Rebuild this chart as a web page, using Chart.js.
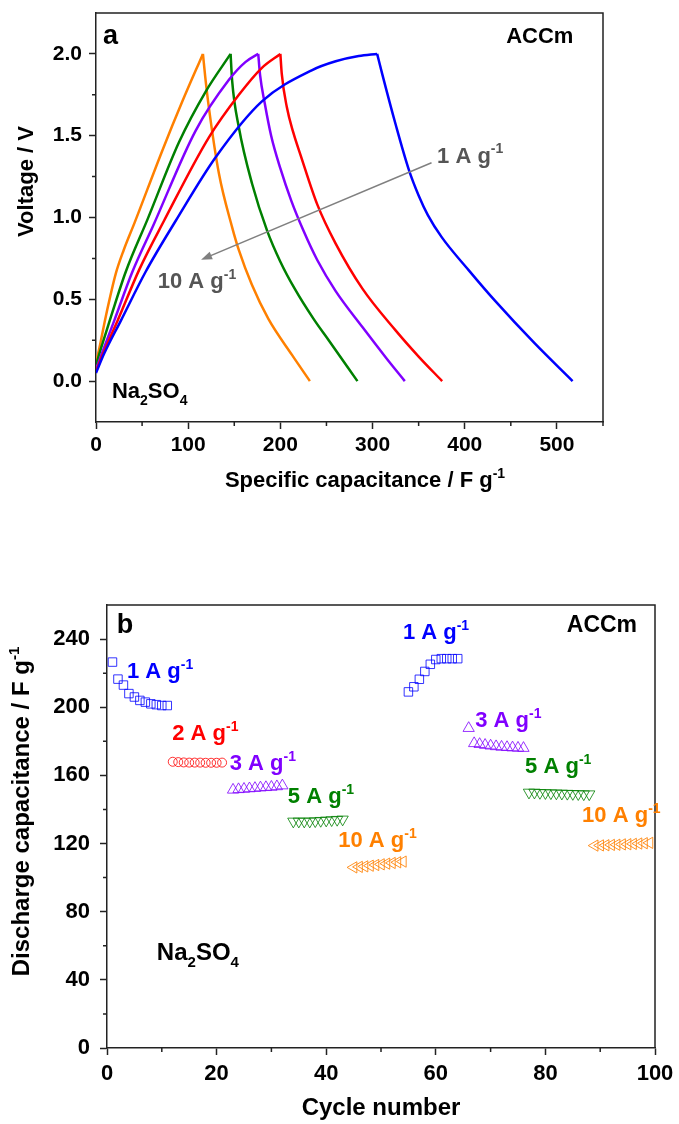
<!DOCTYPE html>
<html>
<head>
<meta charset="utf-8">
<script src="https://cdn.jsdelivr.net/npm/chart.js@4.4.1/dist/chart.umd.min.js"></script>
<style>
  body { margin: 0; background: #fff; }
  .panel { position: absolute; left: 0; }
</style>
</head>
<body>
<div class="panel" style="top:0"><canvas id="chartA" width="679" height="500"></canvas></div>
<div class="panel" style="top:500px"><canvas id="chartB" width="679" height="624"></canvas></div>
<script>
// ---- (a) charge / discharge curves: [specific capacitance F/g, voltage V]
const charge1A = [[0,0.05],[9,0.17],[27,0.37],[54,0.67],[86.5,0.98],[130,1.37],[180,1.71],[234,1.90],[260,1.955],[285,1.987],[305,2.0]];
const discharge1A = [[305,2.0],[310.6,1.875],[325,1.57],[339.5,1.29],[350,1.135],[360,1.015],[375,0.88],[404,0.68],[433,0.49],[476,0.23],[517,0.0]];
const charge2A = [[0,0.06],[7.9,0.17],[23.5,0.37],[46.8,0.68],[73.8,0.98],[122.5,1.49],[155,1.75],[180,1.915],[200,2.0]];
const discharge2A = [[200,2.0],[201.5,1.88],[207,1.675],[214,1.52],[222,1.38],[240,1.08],[260,0.84],[289,0.565],[325,0.31],[350,0.15],[375.5,0.0]];
const charge3A = [[0,0.07],[6.5,0.17],[19.8,0.37],[39.6,0.67],[62,0.95],[108,1.53],[144,1.84],[162,1.95],[176,2.0]];
const discharge3A = [[176,2.0],[178,1.87],[183,1.70],[190,1.50],[200,1.30],[212,1.10],[225,0.92],[240,0.74],[260,0.55],[289,0.33],[315,0.14],[335,0.0]];
const charge5A = [[0,0.1],[5.4,0.2],[16,0.39],[32.4,0.67],[56,0.99],[90,1.46],[119,1.77],[146,2.0]];
const discharge5A = [[146,2.0],[147.7,1.835],[155,1.55],[169.4,1.205],[185.6,0.92],[200,0.73],[216,0.56],[236,0.38],[253,0.245],[283.6,0.0]];
const charge10A = [[0,0.11],[3.6,0.20],[10.8,0.40],[21.6,0.66],[30,0.80],[42,0.97],[72,1.41],[93.7,1.71],[116,2.0]];
const discharge10A = [[116,2.0],[118.5,1.86],[122.5,1.67],[133.3,1.27],[147.7,0.94],[155,0.80],[169,0.59],[187,0.38],[212.6,0.16],[232,0.0]];

const xTicksA = [0, 100, 200, 300, 400, 500];
const xMinorA = [50, 150, 250, 350, 450, 550];
const yTicksA = [0, 0.5, 1.0, 1.5, 2.0];
const yMinorA = [0.25, 0.75, 1.25, 1.75];

// ---- (b) rate capability: cycle number vs discharge capacitance (F/g)
const cyc1A_1 = [1,2,3,4,5,6,7,8,9,10,11];
const val1A_1 = [226.5,216.5,213,208,206,204,203,202,201.5,201,201];
const cyc2A = [12,13,14,15,16,17,18,19,20,21];
const val2A = [168,167.8,167.6,167.5,167.5,167.5,167.4,167.4,167.4,167.5];
const cyc3A_1 = [23,24,25,26,27,28,29,30,31,32];
const val3A_1 = [151.5,151.8,152,152.3,152.5,152.8,153,153.2,153.5,154];
const cyc5A_1 = [34,35,36,37,38,39,40,41,42,43];
const val5A_1 = [133,133,133,133,133.2,133.4,133.6,133.8,134,134.2];
const cyc10A_1 = [45,46,47,48,49,50,51,52,53,54];
const val10A_1 = [106,106.3,106.6,107,107.4,107.8,108.2,108.6,109,109.4];
const cyc1A_2 = [55,56,57,58,59,60,61,62,63,64];
const val1A_2 = [209,212,216.4,221,225.2,228,228.5,228.5,228.5,228.5];
const cyc3A_2 = [66,67,68,69,70,71,72,73,74,75,76];
const val3A_2 = [187.7,178.8,178.3,177.8,177.4,177,176.7,176.5,176.3,176.1,176];
const cyc5A_2 = [77,78,79,80,81,82,83,84,85,86,87,88];
const val5A_2 = [150,150,149.8,149.7,149.6,149.5,149.4,149.3,149.2,149.1,149,149];
const cyc10A_2 = [89,90,91,92,93,94,95,96,97,98,99];
const val10A_2 = [118.8,118.9,119,119.2,119.3,119.5,119.6,119.8,120,120.2,120.4];

const xTicksB = [0, 20, 40, 60, 80, 100];
const xMinorB = [10, 30, 50, 70, 90];
const yTicksB = [0, 40, 80, 120, 160, 200, 240];
const yMinorB = [20, 60, 100, 140, 180, 220];

const FONT = '"Liberation Sans", Arial, Helvetica, sans-serif';
const AXIS = '#222';
const BLUE = '#0000ff', RED = '#ff0000', PURPLE = '#8000ff', GREEN = '#008000', ORANGE = '#ff8000', GREY = '#555555';

function richWidth(ctx, parts, size) {
  let w = 0;
  parts.forEach(([t, s]) => {
    ctx.font = 'bold ' + (s ? Math.round(size * 0.62) : size) + 'px ' + FONT;
    w += ctx.measureText(t).width;
  });
  return w;
}
function drawRich(ctx, x, y, parts, size, color, center) {
  if (center) x -= richWidth(ctx, parts, size) / 2;
  ctx.fillStyle = color;
  ctx.textAlign = 'left';
  ctx.textBaseline = 'alphabetic';
  parts.forEach(([t, s]) => {
    ctx.font = 'bold ' + (s ? Math.round(size * 0.62) : size) + 'px ' + FONT;
    const dy = s > 0 ? -size * 0.42 : s < 0 ? size * 0.3 : 0;
    ctx.fillText(t, x, y + dy);
    x += ctx.measureText(t).width;
  });
}
const perG = (t) => [[t + ' A g', 0], ['-1', 1]];
const NA2SO4 = [['Na', 0], ['2', -1], ['SO', 0], ['4', -1]];

// box around plot area + short minor ticks
function framePlugin(minorX, minorY) {
  return {
    id: 'frame',
    afterDraw(chart) {
      const { ctx, chartArea: a, scales: { x, y } } = chart;
      ctx.save();
      ctx.strokeStyle = AXIS;
      ctx.lineWidth = 1.5;
      ctx.beginPath();
      ctx.moveTo(a.left, a.top);
      ctx.lineTo(a.right, a.top);
      ctx.lineTo(a.right, a.bottom);
      minorX.forEach(v => {
        const px = x.getPixelForValue(v);
        ctx.moveTo(px, a.bottom);
        ctx.lineTo(px, a.bottom + 4);
      });
      minorY.forEach(v => {
        const py = y.getPixelForValue(v);
        ctx.moveTo(a.left - 4, py);
        ctx.lineTo(a.left, py);
      });
      ctx.stroke();
      ctx.restore();
    }
  };
}

function axisX(min, max, ticks, size, pad, height) {
  return {
    type: 'linear', min, max,
    afterBuildTicks: s => { s.ticks = ticks.map(v => ({ value: v })); },
    afterFit: s => { s.height = height; s.paddingLeft = 0; s.paddingRight = 0; },
    ticks: { color: '#000', padding: pad, font: { family: FONT, size, weight: 'bold' }, callback: v => String(v) },
    grid: { drawOnChartArea: false, tickLength: 7, tickWidth: 1.5, tickColor: AXIS },
    border: { color: AXIS, width: 1.5 }
  };
}
function axisY(min, max, ticks, size, pad, width, fmt) {
  return {
    type: 'linear', min, max,
    afterBuildTicks: s => { s.ticks = ticks.map(v => ({ value: v })); },
    afterFit: s => { s.width = width; s.paddingTop = 0; s.paddingBottom = 0; },
    ticks: { color: '#000', padding: pad, font: { family: FONT, size, weight: 'bold' }, callback: fmt },
    grid: { drawOnChartArea: false, tickLength: 7, tickWidth: 1.5, tickColor: AXIS },
    border: { color: AXIS, width: 1.5 }
  };
}

// ---------------- chart (a)
const curve = (data, color) => ({
  data: data.map(([x, y]) => ({ x, y })),
  showLine: true, borderColor: color, borderWidth: 2.5, pointRadius: 0,
  cubicInterpolationMode: 'monotone', fill: false
});

const decorA = {
  id: 'decorA',
  afterDraw(chart) {
    const { ctx, scales: { x, y } } = chart;
    ctx.save();
    drawRich(ctx, x.getPixelForValue(7.6), y.getPixelForValue(2.06), [['a', 0]], 27, '#000');
    drawRich(ctx, x.getPixelForValue(445), y.getPixelForValue(2.067), [['ACCm', 0]], 22, '#000');
    drawRich(ctx, x.getPixelForValue(370), y.getPixelForValue(1.335), perG('1'), 22, GREY);
    drawRich(ctx, x.getPixelForValue(67), y.getPixelForValue(0.567), perG('10'), 22, GREY);
    drawRich(ctx, x.getPixelForValue(17.3), y.getPixelForValue(-0.104), NA2SO4, 22, '#000');
    // arrow from 1 A/g towards 10 A/g
    const x0 = x.getPixelForValue(364), y0 = y.getPixelForValue(1.335);
    const x1 = x.getPixelForValue(114), y1 = y.getPixelForValue(0.742);
    const ang = Math.atan2(y1 - y0, x1 - x0);
    ctx.strokeStyle = '#808080'; ctx.fillStyle = '#808080'; ctx.lineWidth = 1.5;
    ctx.beginPath(); ctx.moveTo(x0, y0);
    ctx.lineTo(x1 - 6 * Math.cos(ang), y1 - 6 * Math.sin(ang)); ctx.stroke();
    ctx.beginPath(); ctx.moveTo(x1, y1);
    ctx.lineTo(x1 - 11 * Math.cos(ang) + 4 * Math.sin(ang), y1 - 11 * Math.sin(ang) - 4 * Math.cos(ang));
    ctx.lineTo(x1 - 11 * Math.cos(ang) - 4 * Math.sin(ang), y1 - 11 * Math.sin(ang) + 4 * Math.cos(ang));
    ctx.closePath(); ctx.fill();
    // axis titles
    drawRich(ctx, 365, 487, [['Specific capacitance / F g', 0], ['-1', 1]], 22, '#000', true);
    ctx.translate(33, 181.5); ctx.rotate(-Math.PI / 2);
    drawRich(ctx, 0, 0, [['Voltage / V', 0]], 22, '#000', true);
    ctx.restore();
  }
};

new Chart(document.getElementById('chartA'), {
  type: 'scatter',
  data: {
    datasets: [
      curve(charge1A, BLUE), curve(discharge1A, BLUE),
      curve(charge2A, RED), curve(discharge2A, RED),
      curve(charge3A, PURPLE), curve(discharge3A, PURPLE),
      curve(charge5A, GREEN), curve(discharge5A, GREEN),
      curve(charge10A, ORANGE), curve(discharge10A, ORANGE)
    ]
  },
  options: {
    responsive: false, animation: false, events: [],
    layout: { padding: { left: 0, right: 76, top: 13, bottom: 18 } },
    plugins: { legend: { display: false }, tooltip: { enabled: false } },
    scales: {
      x: axisX(0, 550, xTicksA, 21, 4, 60),
      y: axisY(-0.25, 2.25, yTicksA, 21, 7, 96, v => v.toFixed(1))
    }
  },
  plugins: [framePlugin(xMinorA, yMinorA), decorA]
});

// ---------------- chart (b)
const markers = (cyc, val, color, style, rot, r) => ({
  data: cyc.map((c, i) => ({ x: c, y: val[i] })),
  showLine: false, pointStyle: style, pointRotation: rot, pointRadius: r,
  pointBorderColor: color, pointBackgroundColor: 'rgba(0,0,0,0)', pointBorderWidth: 1
});

const labelsB = [
  { at: [54, 240], parts: perG('1'), color: BLUE },
  { at: [3.65, 217], parts: perG('1'), color: BLUE },
  { at: [11.9, 180.6], parts: perG('2'), color: RED },
  { at: [22.4, 163], parts: perG('3'), color: PURPLE },
  { at: [33, 143.7], parts: perG('5'), color: GREEN },
  { at: [42.2, 117.9], parts: perG('10'), color: ORANGE },
  { at: [67.2, 188.3], parts: perG('3'), color: PURPLE },
  { at: [76.3, 161.3], parts: perG('5'), color: GREEN },
  { at: [86.7, 132.6], parts: perG('10'), color: ORANGE }
];

const decorB = {
  id: 'decorB',
  afterDraw(chart) {
    const { ctx, scales: { x, y } } = chart;
    ctx.save();
    drawRich(ctx, x.getPixelForValue(1.8), y.getPixelForValue(243.4), [['b', 0]], 27, '#000');
    drawRich(ctx, x.getPixelForValue(83.9), y.getPixelForValue(244), [['ACCm', 0]], 23, '#000');
    labelsB.forEach(l => drawRich(ctx, x.getPixelForValue(l.at[0]), y.getPixelForValue(l.at[1]), l.parts, 22, l.color));
    drawRich(ctx, x.getPixelForValue(9.1), y.getPixelForValue(51.6), NA2SO4, 24, '#000');
    drawRich(ctx, 381, 615, [['Cycle number', 0]], 24, '#000', true);
    ctx.translate(29, 311.5); ctx.rotate(-Math.PI / 2);
    drawRich(ctx, 0, 0, [['Discharge capacitance / F g', 0], ['-1', 1]], 24, '#000', true);
    ctx.restore();
  }
};

new Chart(document.getElementById('chartB'), {
  type: 'scatter',
  data: {
    datasets: [
      markers(cyc1A_1, val1A_1, 'rgba(0,0,255,0.8)', 'rect', 0, 6),
      markers(cyc2A, val2A, 'rgba(255,0,0,0.8)', 'circle', 0, 4.5),
      markers(cyc3A_1, val3A_1, 'rgba(128,0,255,0.8)', 'triangle', 0, 6.5),
      markers(cyc5A_1, val5A_1, 'rgba(0,128,0,0.8)', 'triangle', 180, 6.5),
      markers(cyc10A_1, val10A_1, 'rgba(255,128,0,0.85)', 'triangle', 270, 6.5),
      markers(cyc1A_2, val1A_2, 'rgba(0,0,255,0.8)', 'rect', 0, 6),
      markers(cyc3A_2, val3A_2, 'rgba(128,0,255,0.8)', 'triangle', 0, 6.5),
      markers(cyc5A_2, val5A_2, 'rgba(0,128,0,0.8)', 'triangle', 180, 6.5),
      markers(cyc10A_2, val10A_2, 'rgba(255,128,0,0.85)', 'triangle', 270, 6.5)
    ]
  },
  options: {
    responsive: false, animation: false, events: [],
    layout: { padding: { left: 0, right: 24, top: 105, bottom: 6 } },
    plugins: { legend: { display: false }, tooltip: { enabled: false } },
    scales: {
      x: axisX(0, 100, xTicksB, 22, 6, 70),
      y: axisY(0, 260, yTicksB, 22, 10, 107, v => String(v))
    }
  },
  plugins: [framePlugin(xMinorB, yMinorB), decorB]
});
</script>
</body>
</html>
